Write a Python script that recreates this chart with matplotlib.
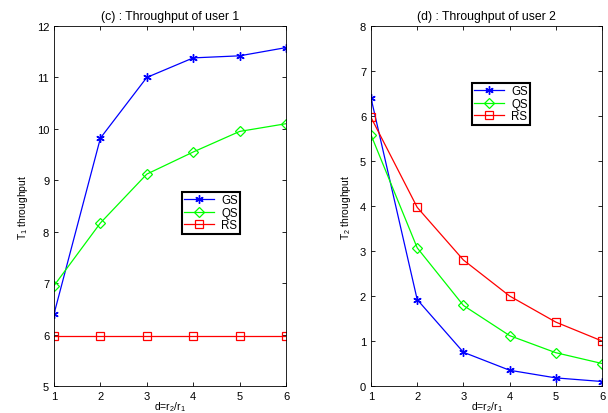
import numpy as np
import matplotlib
matplotlib.use('Agg')
import matplotlib.pyplot as plt

plt.rcParams['font.family'] = ['Liberation Sans', 'DejaVu Sans']
plt.rcParams['mathtext.fontset'] = 'custom'
plt.rcParams['mathtext.rm'] = 'Liberation Sans'
plt.rcParams['mathtext.it'] = 'Liberation Sans'

# data
d = [1, 2, 3, 4, 5, 6]
gs_user1 = [6.4, 9.82, 11.0, 11.38, 11.42, 11.58]
qs_user1 = [6.95, 8.17, 9.12, 9.55, 9.95, 10.1]
rs_user1 = [5.97, 5.97, 5.97, 5.97, 5.97, 5.97]
gs_user2 = [6.4, 1.92, 0.75, 0.35, 0.18, 0.1]
qs_user2 = [5.58, 3.07, 1.79, 1.12, 0.74, 0.5]
rs_user2 = [5.97, 3.97, 2.8, 2.0, 1.42, 1.0]

fig = plt.figure(figsize=(6.08, 4.14), dpi=100)
ax1 = fig.add_axes([54/608, 1 - 387/414, 232/608, 360/414])
ax2 = fig.add_axes([371/608, 1 - 387/414, 231/608, 360/414])


def draw(ax, gs, qs, rs, title, ylabel, ylim, yticks, leg_anchor):
    ax.plot(d, gs, color='blue', marker=(6, 2, 0), markersize=6, mew=1.0, lw=0.9, label='GS')
    ax.plot(d, qs, color='#00ff00', marker='D', markersize=5, lw=0.9, mew=0.9,
            markerfacecolor='none', label='QS')
    ax.plot(d, rs, color='red', marker='s', markersize=5.5, lw=0.9, mew=0.9,
            markerfacecolor='none', label='RS')
    ax.set_xlim(1, 6)
    ax.set_ylim(*ylim)
    ax.set_xticks(d)
    ax.set_yticks(yticks)
    ax.tick_params(direction='in', top=True, right=True, labelsize=8, length=3, width=0.6)
    for s in ax.spines.values():
        s.set_linewidth(0.6)
    ax.set_title(title, fontsize=8.8, pad=5)
    ax.set_ylabel(ylabel, fontsize=7.5, labelpad=5)
    ax.set_xlabel('d=r$_2$/r$_1$', fontsize=7.5, labelpad=-1.5)
    leg = ax.legend(loc='upper left', bbox_to_anchor=leg_anchor, fontsize=8.3,
                    fancybox=False, framealpha=1, edgecolor='black',
                    handlelength=2.6, borderpad=0.2, labelspacing=0.05,
                    handletextpad=0.6, borderaxespad=0)
    leg.get_frame().set_linewidth(1.5)


draw(ax1, gs_user1, qs_user1, rs_user1, '(c) : Throughput of user 1',
     'T$_1$ throughput', (5, 12), range(5, 13), (0.552, 0.539))
draw(ax2, gs_user2, qs_user2, rs_user2, '(d) : Throughput of user 2',
     'T$_2$ throughput', (0, 8), range(0, 9), (0.437, 0.842))

fig.savefig('out.png', dpi=100)
